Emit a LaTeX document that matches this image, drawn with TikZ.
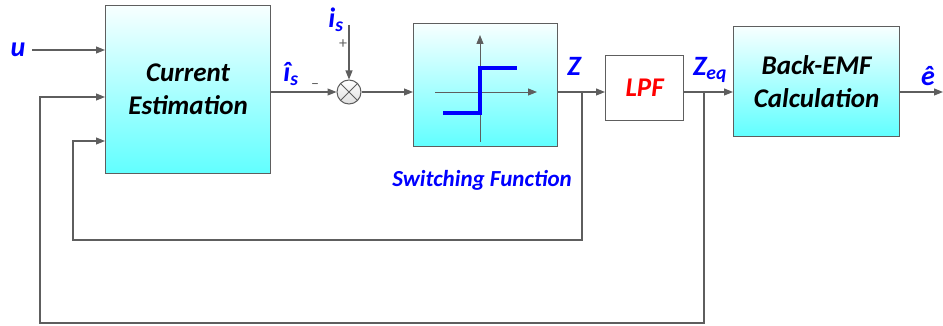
\documentclass[tikz,border=0pt]{standalone}
\usepackage{fontspec}
\setmainfont{Carlito}
\usetikzlibrary{arrows.meta}
\definecolor{linegray}{HTML}{5E5E5E}
\definecolor{lblue}{RGB}{0,0,255}

\tikzset{
  block/.style={draw=linegray,line width=1.2pt,top color=cyan!3,bottom color=cyan!62,
    anchor=north west,inner sep=0pt,align=center,font=\fontsize{27}{33}\selectfont\bfseries\itshape},
  lbl/.style={text=lblue,inner sep=0pt,font=\fontsize{28}{30}\selectfont\bfseries\itshape},
  sgn/.style={text=linegray,inner sep=0pt,font=\fontsize{16}{17}\selectfont},
  arr/.style={draw=linegray,line width=1.1pt,-{Triangle[length=9pt,width=7pt]}},
  wire/.style={draw=linegray,line width=1.1pt}
}

\begin{document}
\begin{tikzpicture}[x=1pt,y=-1pt]
\useasboundingbox (0,0) rectangle (943,326);
\node[block,minimum width=165pt,minimum height=168pt] (ce) at (105,5) {Current\\Estimation};
\node[block,minimum width=144pt,minimum height=123pt] (sw) at (413,23) {};
\node[block,top color=white,bottom color=white,minimum width=78pt,minimum height=65pt,text=red] (lpf) at (605,55) {LPF};
\node[block,minimum width=166pt,minimum height=110pt] (bemf) at (733,26) {Back-EMF\\Calculation};
\node[circle,draw=linegray,line width=1pt,top color=white,bottom color=gray!25,minimum size=24pt,inner sep=0pt] (sum) at (349,92) {};
\draw[linegray,line width=0.9pt] (sum.north west) -- (sum.south east) (sum.north east) -- (sum.south west);

\node[lbl] (u) at (18,50) {u};
\node[lbl] (ishat) at (291,74) {\^{\i}\textsubscript{s}};
\node[lbl] (is) at (336,20) {i\textsubscript{s}};
\node[lbl] (z) at (574,66) {Z};
\node[lbl] (zeq) at (710,70) {Z\textsubscript{eq}};
\node[lbl] (ehat) at (928,76) {\^e};
\node[lbl,font=\fontsize{23}{25}\selectfont\bfseries\itshape] (swlbl) at (482,180) {Switching Function};
\node[sgn] (plus) at (343,44) {+};
\node[sgn] (minus) at (315,86) {--};

\coordinate (isin) at (349,25);
\coordinate (zb) at (582,92);
\coordinate (zeqb) at (704,92);
\coordinate (fb1) at (73,240);
\coordinate (fb2) at (40,323);
\coordinate (eout) at (943,92);

\draw[arr] (32,50) -- (ce.west |- 0,50);
\draw[arr] (ce.east |- sum) -- (sum);
\draw[arr] (isin) -- (sum.north);
\draw[arr] (sum) -- (sw.west |- sum);
\draw[arr] (sw.east |- sum) -- (lpf.west |- sum);
\draw[arr] (lpf.east |- sum) -- (bemf.west |- sum);
\draw[arr] (bemf.east |- sum) -- (eout);
\draw[arr] (zb) |- (fb1) |- (ce.west |- 0,141);
\draw[arr] (zeqb) |- (fb2) |- (ce.west |- 0,97);

\draw[arr,line width=0.9pt] (480,142) -- (480,35);
\draw[arr,line width=0.9pt] (435,92) -- (537,92);
\draw[lblue,line width=3.6pt] (443,113) -- (480,113) -- (480,68) -- (517,68);
\end{tikzpicture}
\end{document}
